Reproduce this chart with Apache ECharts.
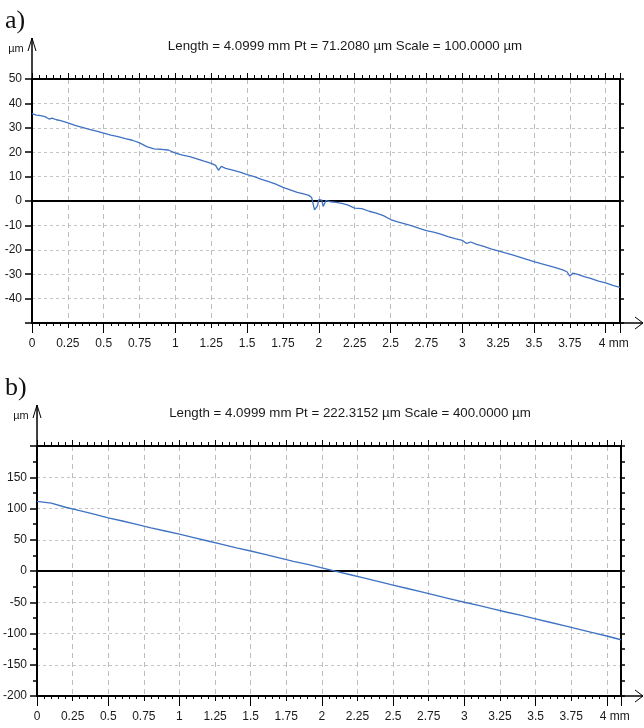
<!DOCTYPE html>
<html><head><meta charset="utf-8">
<script src="https://cdn.jsdelivr.net/npm/echarts@6/dist/echarts.min.js"></script>
<style>html,body{margin:0;padding:0;background:#fff}#c{width:644px;height:728px}</style>
</head><body><div id="c"></div>
<script>
// ---- data ----
const titleA = 'Length = 4.0999 mm Pt = 71.2080 µm Scale = 100.0000 µm';
const titleB = 'Length = 4.0999 mm Pt = 222.3152 µm Scale = 400.0000 µm';
const xTickLabels = ['0','0.25','0.5','0.75','1','1.25','1.5','1.75','2','2.25','2.5','2.75','3','3.25','3.5','3.75','4 mm'];
const yTickLabelsA = ['-50','-40','-30','-20','-10','0','10','20','30','40','50'];
const yTickLabelsB = ['-200','-150','-100','-50','0','50','100','150','200'];
const hiddenYLabelsA = ['-50'];
const hiddenYLabelsB = ['200'];

const profileAx = [0,0.03,0.06,0.09,0.12,0.14,0.17,0.2,0.25,0.3,0.35,0.4,0.45,0.5,0.55,0.6,0.65,0.7,0.75,0.8,0.85,0.9,0.95,1.0,1.05,1.1,1.15,1.2,1.25,1.28,1.3,1.32,1.35,1.4,1.45,1.5,1.55,1.6,1.65,1.7,1.75,1.8,1.85,1.9,1.93,1.95,1.97,1.99,2.0,2.02,2.03,2.05,2.08,2.12,2.16,2.2,2.25,2.3,2.35,2.4,2.45,2.5,2.55,2.6,2.65,2.7,2.75,2.8,2.85,2.9,2.95,3.0,3.03,3.06,3.1,3.15,3.2,3.25,3.3,3.35,3.4,3.45,3.5,3.55,3.6,3.65,3.7,3.73,3.75,3.77,3.8,3.85,3.9,3.95,4.0,4.05,4.0999];
const profileAy = [35.8,35.2,35.0,34.6,33.6,34.0,33.3,32.9,32.0,31.0,30.2,29.4,28.6,27.8,27.0,26.4,25.6,24.9,23.8,22.3,21.4,21.2,20.9,19.6,18.8,18.2,17.3,16.3,15.4,14.6,12.6,14.2,13.4,12.7,11.8,10.8,10.0,8.9,7.9,6.9,5.6,4.6,3.5,2.8,2.3,1.4,-3.6,-2.0,0.6,0.4,-2.2,0.2,-0.3,-0.6,-1.0,-1.6,-2.9,-3.1,-4.2,-5.0,-6.0,-7.6,-8.6,-9.4,-10.2,-11.2,-12.1,-12.8,-13.6,-14.6,-15.4,-16.1,-17.4,-16.8,-17.8,-18.6,-19.6,-20.4,-21.3,-22.1,-23.0,-23.9,-24.8,-25.7,-26.5,-27.3,-28.2,-29.0,-30.8,-29.6,-30.0,-31.0,-31.8,-32.8,-33.6,-34.6,-35.4];

const profileBx = [0,0.1,0.2,0.3,0.4,0.5,0.6,0.7,0.8,0.9,1.0,1.1,1.2,1.3,1.4,1.5,1.6,1.7,1.8,1.9,2.0,2.1,2.2,2.3,2.4,2.5,2.6,2.7,2.8,2.9,3.0,3.1,3.2,3.3,3.4,3.5,3.6,3.7,3.8,3.9,4.0,4.0999];
const profileBy = [111.5,108.5,102,96.5,91,85,80,74.5,69,64,59,53.5,48,42.5,37,32,26.5,21,15.5,10.5,5,-0.5,-6,-11.5,-17,-22.5,-28,-33.5,-39,-44.5,-50,-55,-60.5,-66,-71,-76.5,-82,-87.5,-93,-98.5,-104,-110];

const lengthMm = 4.0999;

// ---- chart ----
const chart = echarts.init(document.getElementById('c'), null, {renderer:'canvas'});
const labelFont = '"Liberation Sans",Arial,sans-serif';
const lineColor = '#3f72c2';
const black = '#000';

function xLabel(v){
  if (v > 4.05) return '';
  const i = Math.round(v/0.25);
  if (i === 16) return '{sp|}4 mm';
  return xTickLabels[i] ?? '';
}
function makeYLabel(labels, hidden){
  return function(v){
    const s = String(Math.round(v));
    if (hidden.indexOf(s) >= 0) return '';
    return labels.indexOf(s) >= 0 ? s : '';
  };
}

function xAxesFor(gi){
  return [
    { gridIndex:gi, type:'value', position:'bottom', min:0, max:lengthMm, interval:0.25,
      axisLine:{show:true, onZero:false, lineStyle:{color:black, width:2}},
      axisTick:{show:true, inside:false, length:5, lineStyle:{color:black, width:1}},
      minorTick:{show:true, splitNumber:5, length:3, lineStyle:{color:black, width:1}},
      splitLine:{show:true, lineStyle:{color:'#bdbdbd', width:1, type:[5,4]}},
      axisLabel:{show:true, margin:15, formatter:xLabel, color:'#1a1a1a', fontSize:12, fontFamily:labelFont,
        hideOverlap:false, showMinLabel:true, showMaxLabel:true, rich:{sp:{width:16}}}
    },
    { gridIndex:gi, type:'value', position:'top', min:0, max:lengthMm, interval:0.25,
      axisLine:{show:true, onZero:false, lineStyle:{color:black, width:2}},
      axisTick:{show:true, inside:false, length:6, lineStyle:{color:black, width:1}},
      minorTick:{show:true, splitNumber:5, length:4, lineStyle:{color:black, width:1}},
      splitLine:{show:false}, axisLabel:{show:false}
    },
    { gridIndex:gi, type:'value', position:'bottom', min:0, max:lengthMm, interval:0.5,
      axisLine:{show:false, onZero:false},
      axisTick:{show:true, inside:false, length:10, lineStyle:{color:black, width:1}},
      splitLine:{show:false}, axisLabel:{show:false}
    }
  ];
}
function yAxesFor(gi, min, max, interval, minorSplit, labels, hidden){
  return [
    { gridIndex:gi, type:'value', position:'left', min:min, max:max, interval:interval,
      axisLine:{show:true, onZero:false, lineStyle:{color:black, width:2}},
      axisTick:{show:true, inside:false, length:7, lineStyle:{color:black, width:1.5}},
      minorTick:{show:minorSplit>1, splitNumber:minorSplit||1, length:4, lineStyle:{color:black, width:1.5}},
      splitLine:{show:true, lineStyle:{color:'#c4c4c4', width:1, type:[3,3]}},
      axisLabel:{show:true, margin:10, formatter:makeYLabel(labels, hidden), color:'#1a1a1a', fontSize:12, fontFamily:labelFont,
        hideOverlap:false, showMinLabel:true, showMaxLabel:true}
    },
    { gridIndex:gi, type:'value', position:'right', min:min, max:max, interval:interval,
      axisLine:{show:true, onZero:false, lineStyle:{color:black, width:2}},
      axisTick:{show:true, inside:false, length:4, lineStyle:{color:black, width:1.5}},
      minorTick:{show:minorSplit>1, splitNumber:minorSplit||1, length:4, lineStyle:{color:black, width:1.5}},
      splitLine:{show:false}, axisLabel:{show:false}
    }
  ];
}

function zip(xs, ys){ return xs.map((x,i)=>[x, ys[i]]); }

const option = {
  animation:false,
  backgroundColor:'#fff',
  grid:[
    {left:32, top:79, width:588, height:244, containLabel:false},
    {left:35, top:446, width:586, height:250, containLabel:false}
  ],
  xAxis:[...xAxesFor(0), ...xAxesFor(1)],
  yAxis:[...yAxesFor(0,-50,50,10,0,yTickLabelsA,hiddenYLabelsA), ...yAxesFor(1,-200,200,50,2,yTickLabelsB,hiddenYLabelsB)],
  series:[
    { type:'line', xAxisIndex:0, yAxisIndex:0, data:zip(profileAx, profileAy), showSymbol:false, symbol:'none',
      lineStyle:{color:lineColor, width:1.3}, z:5,
      markLine:{silent:true, symbol:['none','none'], label:{show:false}, lineStyle:{color:black, width:2, type:'solid'},
        data:[{yAxis:0}], z:3}
    },
    { type:'line', xAxisIndex:3, yAxisIndex:2, data:zip(profileBx, profileBy), showSymbol:false, symbol:'none',
      lineStyle:{color:lineColor, width:1.3}, z:5,
      markLine:{silent:true, symbol:['none','none'], label:{show:false}, lineStyle:{color:black, width:2, type:'solid'},
        data:[{yAxis:0}], z:3}
    }
  ]
};
chart.setOption(option);

// ---- decorations: arrows, titles, panel letters ----
function decorations(){
  const els = [];
  const panels = [
    {gi:0, ymin:-50, ymax:50, title:titleA, letter:'a)', titleX:345},
    {gi:1, ymin:-200, ymax:200, title:titleB, letter:'b)', titleX:350}
  ];
  panels.forEach(p=>{
    const tl = chart.convertToPixel({gridIndex:p.gi}, [0, p.ymax]);
    const br = chart.convertToPixel({gridIndex:p.gi}, [lengthMm, p.ymin]);
    const tipY = tl[1] - 41;
    const lineStyle = {stroke:black, lineWidth:1.5, fill:null};
    els.push({type:'polyline', shape:{points:[[tl[0], tl[1]], [tl[0], tipY]]}, style:lineStyle, silent:true});
    els.push({type:'polyline', shape:{points:[[tl[0]-4, tipY+13], [tl[0], tipY], [tl[0]+4, tipY+13]]}, style:{stroke:black, lineWidth:1, fill:null}, silent:true});
    const tipX = 643;
    els.push({type:'polyline', shape:{points:[[br[0], br[1]], [tipX, br[1]]]}, style:lineStyle, silent:true});
    els.push({type:'polyline', shape:{points:[[tipX-8, br[1]-6], [tipX, br[1]], [tipX-8, br[1]+6]]}, style:{stroke:black, lineWidth:1, fill:null}, silent:true});
    els.push({type:'text', style:{text:'µm', x:tl[0]-16, y:tipY+11, textAlign:'center', textVerticalAlign:'middle',
      font:'11px '+labelFont, fill:'#1a1a1a'}, silent:true});
    els.push({type:'text', style:{text:p.title, x:p.titleX, y:tipY+8, textAlign:'center', textVerticalAlign:'middle',
      font:'13.3px "Liberation Sans",Arial,sans-serif', fill:'#1a1a1a'}, silent:true});
    els.push({type:'text', style:{text:p.letter, x:5, y:tipY-17, textAlign:'left', textVerticalAlign:'middle',
      font:'26px "Liberation Serif","Times New Roman",serif', fill:'#111'}, silent:true});
  });
  chart.setOption({graphic:{elements:els}});
}
decorations();
</script>
</body></html>
